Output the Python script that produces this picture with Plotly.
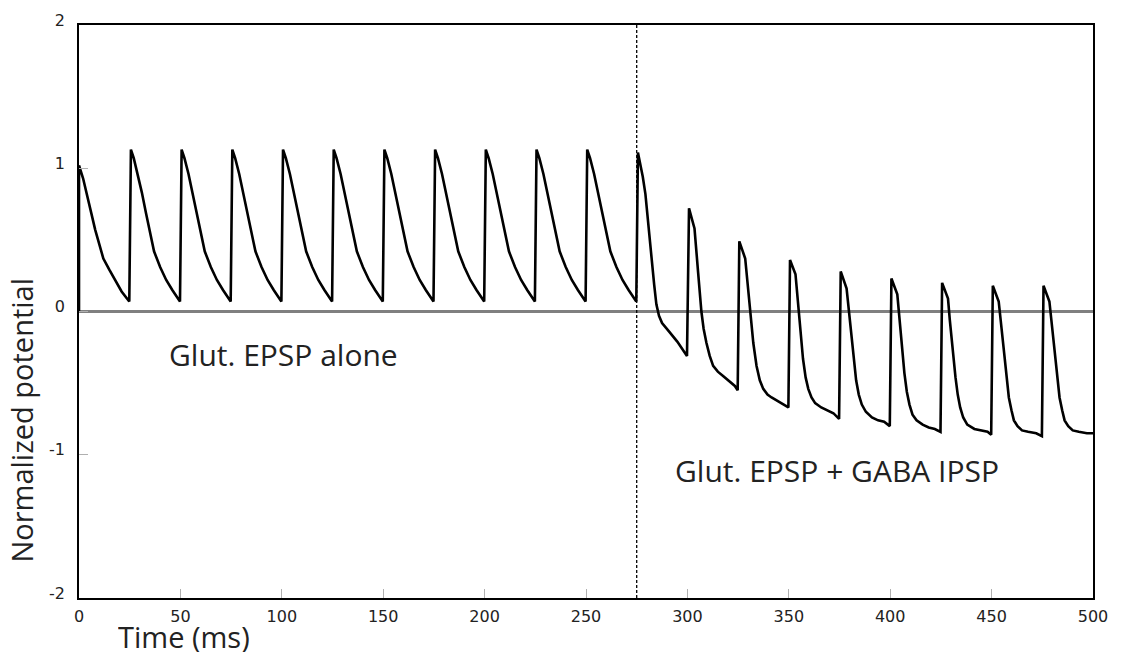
import plotly.graph_objects as go

# ---------------- data ----------------
time_ms = [
    0, 0, 2, 4, 6, 8, 10, 12, 15, 18, 21, 24.8,
    25.6, 27, 29, 31, 33, 35, 37, 40, 43, 46, 49.8,
    50.6, 52, 54, 56, 58, 60, 62, 65, 68, 71, 74.8,
    75.6, 77, 79, 81, 83, 85, 87, 90, 93, 96, 99.8,
    100.6, 102, 104, 106, 108, 110, 112, 115, 118, 121, 124.8,
    125.6, 127, 129, 131, 133, 135, 137, 140, 143, 146, 149.8,
    150.6, 152, 154, 156, 158, 160, 162, 165, 168, 171, 174.8,
    175.6, 177, 179, 181, 183, 185, 187, 190, 193, 196, 199.8,
    200.6, 202, 204, 206, 208, 210, 212, 215, 218, 221, 224.8,
    225.6, 227, 229, 231, 233, 235, 237, 240, 243, 246, 249.8,
    250.6, 252, 254, 256, 258, 260, 262, 265, 268, 271, 274.8,
    275.6, 278, 279.3, 280.8, 282.3, 283.6, 284.7, 286, 287.5, 291, 295, 299.8,
    300.8, 303.5, 304.4, 305.3, 306.9, 308, 309.4, 311, 312.7, 315, 317.6, 320.5, 323.4, 324.8,
    325.6, 328.5, 329.6, 330.8, 332.5, 334.1, 335.7, 337.4, 339.5, 341.5, 344, 346.5, 349.8,
    350.6, 353.3, 354.3, 355.3, 357, 358.3, 359.6, 361.2, 363, 366, 369, 372, 374.8,
    375.6, 378.5, 379.5, 380.5, 382, 383.2, 384.5, 386, 388, 391, 394, 397, 399.8,
    400.6, 403.5, 404.4, 405.3, 407, 408.2, 409.5, 411, 413, 416, 419, 422, 424.8,
    425.6, 428.5, 429.4, 430.4, 432.2, 433.3, 434.5, 436, 438, 441.5, 445, 448, 449.8,
    450.6, 453.5, 454.5, 455.5, 457.3, 458.5, 459.8, 461, 462.8, 465, 468, 472, 474.8,
    475.6, 478.5, 479.5, 480.5, 482.3, 483.5, 484.8, 486, 487.8, 490, 493, 497, 500,
]
potential = [
    0, 1.02, 0.93, 0.82, 0.69, 0.57, 0.46, 0.37, 0.29, 0.21, 0.14, 0.07,
    1.13, 1.07, 0.96, 0.83, 0.69, 0.55, 0.42, 0.31, 0.22, 0.15, 0.07,
    1.13, 1.07, 0.96, 0.83, 0.69, 0.55, 0.42, 0.31, 0.22, 0.15, 0.07,
    1.13, 1.07, 0.96, 0.83, 0.69, 0.55, 0.42, 0.31, 0.22, 0.15, 0.07,
    1.13, 1.07, 0.96, 0.83, 0.69, 0.55, 0.42, 0.31, 0.22, 0.15, 0.07,
    1.13, 1.07, 0.96, 0.83, 0.69, 0.55, 0.42, 0.31, 0.22, 0.15, 0.07,
    1.13, 1.07, 0.96, 0.83, 0.69, 0.55, 0.42, 0.31, 0.22, 0.15, 0.07,
    1.13, 1.07, 0.96, 0.83, 0.69, 0.55, 0.42, 0.31, 0.22, 0.15, 0.07,
    1.13, 1.07, 0.96, 0.83, 0.69, 0.55, 0.42, 0.31, 0.22, 0.15, 0.07,
    1.13, 1.07, 0.96, 0.83, 0.69, 0.55, 0.42, 0.31, 0.22, 0.15, 0.07,
    1.13, 1.07, 0.96, 0.83, 0.69, 0.55, 0.42, 0.31, 0.22, 0.15, 0.07,
    1.11, 0.94, 0.82, 0.62, 0.38, 0.19, 0.05, -0.03, -0.08, -0.14, -0.21, -0.31,
    0.72, 0.58, 0.45, 0.27, 0.0, -0.12, -0.22, -0.31, -0.38, -0.42, -0.45, -0.485, -0.52, -0.55,
    0.49, 0.37, 0.21, 0.0, -0.22, -0.38, -0.48, -0.54, -0.58, -0.60, -0.62, -0.64, -0.67,
    0.36, 0.26, 0.10, -0.08, -0.33, -0.46, -0.54, -0.60, -0.64, -0.67, -0.69, -0.71, -0.75,
    0.28, 0.16, 0.02, -0.15, -0.35, -0.48, -0.58, -0.65, -0.70, -0.74, -0.76, -0.77, -0.80,
    0.23, 0.12, -0.03, -0.18, -0.43, -0.56, -0.65, -0.72, -0.76, -0.79, -0.81, -0.82, -0.84,
    0.20, 0.09, -0.06, -0.21, -0.46, -0.58, -0.67, -0.74, -0.79, -0.82, -0.83, -0.84, -0.86,
    0.18, 0.07, -0.07, -0.22, -0.48, -0.60, -0.69, -0.76, -0.80, -0.83, -0.84, -0.85, -0.87,
    0.18, 0.07, -0.07, -0.22, -0.48, -0.60, -0.69, -0.76, -0.80, -0.83, -0.84, -0.85, -0.85,
]
gaba_onset_ms = 275
x_ticks = [0, 50, 100, 150, 200, 250, 300, 350, 400, 450, 500]
y_ticks = [-2, -1, 0, 1, 2]
label_alone = "Glut. EPSP alone"
label_combined = "Glut. EPSP + GABA IPSP"

# ---------------- figure ----------------
fig = go.Figure()
fig.add_trace(go.Scatter(
    x=time_ms, y=potential, mode="lines",
    line=dict(color="black", width=2.6),
    showlegend=False, hoverinfo="skip",
))

fig.add_vline(x=gaba_onset_ms, line=dict(color="black", width=1.3, dash="3px,2px"))

font_family = "Open Sans, Noto Sans, sans-serif"
label_font = dict(family=font_family, size=30, color="#222222")
title_font = dict(family=font_family, size=29, color="#222222")

fig.add_annotation(x=43.5, y=-0.30, xref="x", yref="y", text=label_alone,
                   showarrow=False, xanchor="left", yanchor="middle", font=label_font)
fig.add_annotation(x=293, y=-1.11, xref="x", yref="y", text=label_combined,
                   showarrow=False, xanchor="left", yanchor="middle", font=label_font)

# axis titles (offset from axis centre as in the reference)
fig.add_annotation(x=0.1036, y=-0.0675, xref="paper", yref="paper", text="Time (ms)",
                   showarrow=False, xanchor="center", yanchor="middle", font=title_font,
                   height=31, valign="middle", borderpad=0)
fig.add_annotation(x=-0.057, y=0.31, xref="paper", yref="paper", text="Normalized potential",
                   showarrow=False, xanchor="center", yanchor="middle", textangle=-90,
                   font=title_font)

tick_font = dict(family="DejaVu Sans, sans-serif", size=16, color="#222222")

fig.update_xaxes(
    range=[0, 500], tickvals=x_ticks, ticktext=[str(v) for v in x_ticks],
    ticks="inside", ticklen=9, tickcolor="#b0b0b0", tickwidth=1,
    showline=True, linecolor="black", linewidth=1.5, mirror=True,
    showgrid=False, zeroline=False, tickfont=tick_font, ticklabelstandoff=3,
)
fig.update_yaxes(
    range=[-2, 2], tickvals=y_ticks, ticktext=[str(v) for v in y_ticks],
    ticks="inside", ticklen=9, tickcolor="#b0b0b0", tickwidth=1,
    showline=True, linecolor="black", linewidth=1.5, mirror=True,
    showgrid=False, zeroline=True, zerolinecolor="#808080", zerolinewidth=2.5,
    tickfont=tick_font, ticklabelshift=-5, ticklabelstandoff=9,
)

fig.update_layout(
    width=1127, height=653,
    margin=dict(l=79, r=34, t=25, b=55),
    paper_bgcolor="white", plot_bgcolor="white",
)

fig.write_html("out.html")
